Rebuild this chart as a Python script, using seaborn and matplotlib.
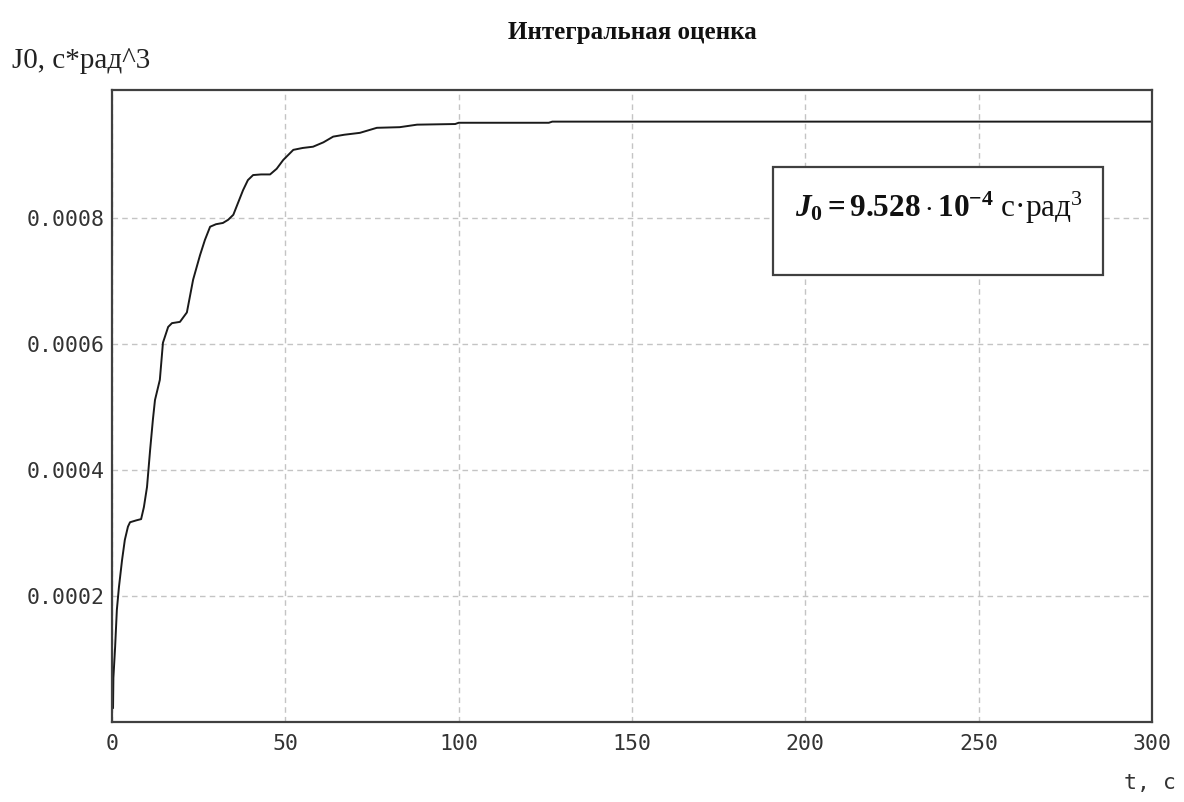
import matplotlib
matplotlib.use("Agg")
import matplotlib.pyplot as plt
import seaborn as sns
import pandas as pd
from matplotlib.patches import Rectangle

# ---- data ----
t_sec = [0.3, 0.4, 0.9, 1.4, 2.0, 2.9, 3.7, 4.6, 5.2, 7.0, 8.4, 9.2, 10.1, 11.0,
         11.8, 12.4, 13.8, 14.7, 16.2, 17.3, 19.6, 21.6, 23.4, 25.4, 26.8, 28.3,
         30.0, 32.0, 33.5, 35.0, 37.8, 39.2, 40.7, 43.0, 45.6, 47.5, 49.4, 52.3,
         55.0, 58.0, 61.0, 63.8, 67.0, 71.5, 76.4, 83.0, 88.0, 99.0, 100.0,
         126.0, 127.0, 300.0]
J0_e4 = [0.22, 0.70, 1.19, 1.78, 2.14, 2.57, 2.89, 3.10, 3.17, 3.20, 3.22, 3.41,
         3.73, 4.32, 4.80, 5.11, 5.43, 6.02, 6.27, 6.33, 6.35, 6.50, 7.02, 7.41,
         7.65, 7.86, 7.90, 7.92, 7.97, 8.05, 8.44, 8.60, 8.68, 8.69, 8.69, 8.78,
         8.92, 9.08, 9.11, 9.13, 9.20, 9.29, 9.32, 9.35, 9.43, 9.44, 9.48, 9.49,
         9.51, 9.51, 9.528, 9.528]
x_ticks = [0, 50, 100, 150, 200, 250, 300]
y_ticks = [0.0002, 0.0004, 0.0006, 0.0008]
y_tick_labels = ["0.0002", "0.0004", "0.0006", "0.0008"]
title_text = "Интегральная оценка"
ylabel_text = "J0, с*рад^3"
xlabel_text = "t, с"

df = pd.DataFrame({"t": t_sec, "J": [v * 1e-4 for v in J0_e4]})

sns.set_style("white")
plt.rcParams["mathtext.fontset"] = "custom"
plt.rcParams["mathtext.rm"] = "Liberation Serif"
plt.rcParams["mathtext.it"] = "Liberation Serif:italic"
plt.rcParams["mathtext.bf"] = "Liberation Serif:bold"
plt.rcParams["mathtext.bfit"] = "Liberation Serif:bold:italic"

fig = plt.figure(figsize=(11.84, 8.02), dpi=100)
ax = fig.add_axes([112 / 1184, 1 - 722 / 802, 1040 / 1184, 632 / 802])

sns.lineplot(data=df, x="t", y="J", ax=ax, color="#1a1a1a", linewidth=1.4,
             estimator=None, sort=False)

ax.set_xlim(0, 300)
ax.set_ylim(0, 0.001003)
ax.set_xticks(x_ticks)
ax.set_xticklabels([str(v) for v in x_ticks])
ax.set_yticks(y_ticks)
ax.set_yticklabels(y_tick_labels)
ax.tick_params(length=0, labelsize=15.5, colors="#333333")
ax.tick_params(axis="x", pad=9)
ax.tick_params(axis="y", pad=5)
for lab in ax.get_xticklabels() + ax.get_yticklabels():
    lab.set_family("DejaVu Sans Mono")

ax.grid(True, color="#c4c4c4", linestyle=(0, (4, 3)), linewidth=1.0)
for s in ax.spines.values():
    s.set_color("#404040")
    s.set_linewidth(1.6)
    s.set_visible(True)

ax.set_xlabel("")
ax.set_ylabel("")

fig.text(632 / 1184, 1 - 33 / 802, title_text, ha="center", va="center",
         fontsize=18, fontweight="bold", family="Liberation Serif", color="#111111")
fig.text(12 / 1184, 1 - 68 / 802, ylabel_text, ha="left", va="baseline",
         fontsize=21, family="Liberation Serif", color="#222222")
fig.text(1176 / 1184, 1 - 783 / 802, xlabel_text, ha="right", va="center",
         fontsize=15.5, family="DejaVu Sans Mono", color="#333333")

# annotation box
ax.add_patch(Rectangle((0.636, 0.707), 0.317, 0.171, transform=ax.transAxes,
                       facecolor="white", edgecolor="#404040", linewidth=1.6,
                       zorder=5))
ax.text(0.657, 0.799,
        r"$\mathbfit{J}_{\mathbf{0}}\mathbf{=9.528\cdot10^{-4}}$" + " с·рад$^3$",
        transform=ax.transAxes, ha="left", va="baseline", fontsize=22.5,
        family="Liberation Serif", color="#111111", zorder=6)

fig.savefig("out.png", dpi=100)
